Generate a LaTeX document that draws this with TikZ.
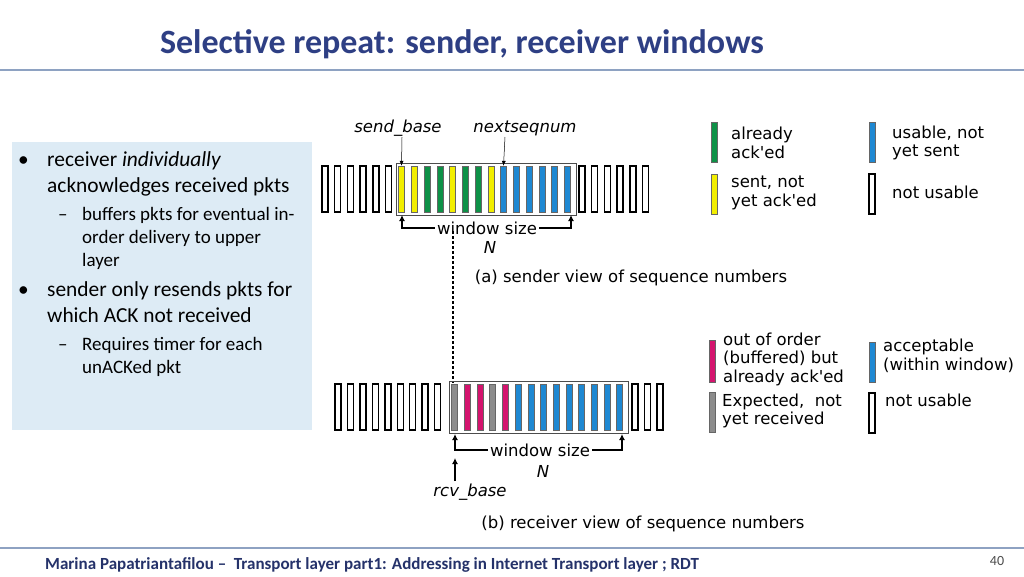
\documentclass[tikz,border=0pt]{standalone}
\usepackage{fontspec}
\setmainfont{Carlito}
\newfontfamily\figfont{DejaVu Sans}
\usetikzlibrary{positioning,arrows.meta}

\definecolor{titleblue}{HTML}{2E3F84}
\definecolor{rulegray}{HTML}{8EA2C2}
\definecolor{panelblue}{HTML}{DDEBF5}
\definecolor{ackgreen}{HTML}{0E9147}
\definecolor{sentyellow}{HTML}{F2EE00}
\definecolor{okblue}{HTML}{1E88D2}
\definecolor{bufmag}{HTML}{D4146E}
\definecolor{expgray}{HTML}{8C8C8C}

% row of sequence number slots: x0, y, pitch, name, list of styles
\newcommand{\DrawSlots}[5]{
    \foreach \s [count=\i] in {#5} {
        \node[\s] (#4\i) at ({#1+(\i-1)*#3}, #2) {};
    }
}

\begin{document}
\begin{tikzpicture}[x=1pt, y=-1pt,
  slot/.style={rectangle, inner sep=0pt, minimum width=6pt, minimum height=46pt},
  nu/.style={slot, draw=black, line width=1.4pt, fill=white},
  G/.style={slot, draw=black!60, line width=0.3pt, fill=ackgreen},
  Y/.style={slot, draw=black!60, line width=0.3pt, fill=sentyellow},
  B/.style={slot, draw=black!60, line width=0.3pt, fill=okblue},
  M/.style={slot, draw=black!60, line width=0.3pt, fill=bufmag},
  E/.style={slot, draw=black!60, line width=0.3pt, fill=expgray},
  fig/.style={font=\figfont\fontsize{16.5}{18.5}\selectfont, inner sep=0pt},
  figit/.style={fig, font=\figfont\itshape\fontsize{16.5}{18.5}\selectfont},
  legend/.style={fig, align=left, anchor=west},
  bullet/.style={anchor=base west, inner sep=0pt, font=\fontsize{21.4}{26}\selectfont},
  sub/.style={anchor=base west, inner sep=0pt, font=\fontsize{19}{23}\selectfont},
  tip/.style={-{Latex[length=6pt,width=6pt]}, line width=1.4pt},
  thin tip/.style={-{Latex[length=5pt,width=4pt]}, line width=0.5pt}
  ]
  \useasboundingbox (0,0) rectangle (1024,576);
  \fill[white] (0,0) rectangle (1024,576);

  % title and rules
  \node[font=\bfseries\fontsize{34}{38}\selectfont, text=titleblue] (title) at (462,44) {Selective repeat: sender, receiver windows};
  \draw[rulegray, line width=1.5pt] (0,70) -- (1024,70);
  \draw[rulegray, line width=1.5pt] (0,548) -- (1024,548);
  \node[anchor=west, inner sep=0pt, font=\bfseries\fontsize{17}{19}\selectfont, text=titleblue!80!black] (footer) at (45,565)
    {Marina Papatriantafilou -- \ Transport layer part1: Addressing in Internet Transport layer ; RDT};
  \node[font=\fontsize{14}{16}\selectfont, text=black!70] (page) at (997,561) {40};

  % text panel
  \fill[panelblue] (12,142) rectangle (312,430);
  \node[bullet] (b1) at (18,166) {\textbullet};
  \node[bullet] (t1) at (47,166) {receiver \textit{individually}};
  \node[bullet] (t2) at (47,192) {acknowledges received pkts};
  \node[sub] (d1) at (58,220) {--};
  \node[sub] (t3) at (82,220) {buffers pkts for eventual in-};
  \node[sub] (t4) at (82,243) {order delivery to upper};
  \node[sub] (t5) at (82,266) {layer};
  \node[bullet] (b2) at (18,296) {\textbullet};
  \node[bullet] (t6) at (47,296) {sender only resends pkts for};
  \node[bullet] (t7) at (47,322) {which ACK not received};
  \node[sub] (d2) at (58,350) {--};
  \node[sub] (t8) at (82,350) {Requires timer for each};
  \node[sub] (t9) at (82,373) {unACKed pkt};

  % sender view
  \DrawSlots{325}{189}{12.7}{sl}{nu,nu,nu,nu,nu,nu}
  \DrawSlots{401.5}{189}{12.75}{sw}{Y,Y,G,G,Y,G,G,Y,B,B,B,B,B,B}
  \DrawSlots{582}{189}{12.7}{sr}{nu,nu,nu,nu,nu,nu}
  \draw[black!70, line width=0.6pt] (396,163) rectangle (576,215);
  \node[figit] (sbase) at (398,128) {send\_base};
  \node[figit] (nseq) at (525,128) {nextseqnum};
  \coordinate (sbtop) at (402,137);
  \coordinate (nstop) at (505,137);
  \draw[thin tip] (sbtop) -- (sw1.north);
  \draw[thin tip] (nstop) -- (sw9.north);
  \node[fig, inner xsep=2pt] (swin) at (487,228) {window size};
  \node[figit] (sN) at (490,247) {N};
  \draw[tip] (swin.west) -- (402,228) -- (402,215);
  \draw[tip] (swin.east) -- (571,228) -- (571,215);
  \node[fig] (capa) at (631,278) {(a) sender view of sequence numbers};

  % dashed link
  \coordinate (dtop) at (453,231);
  \coordinate (dbot) at (453,383);
  \draw[dash pattern=on 3pt off 2pt, line width=1.4pt] (dtop) -- (dbot);

  % receiver view
  \DrawSlots{338}{407}{12.45}{rl}{nu,nu,nu,nu,nu,nu,nu,nu,nu}
  \DrawSlots{454.5}{407}{12.7}{rw}{E,M,M,E,M,B,B,B,B,B,B,B,B,B}
  \DrawSlots{635}{407}{12.5}{rr}{nu,nu,nu}
  \draw[black!70, line width=0.6pt] (449,381) rectangle (628,433);
  \node[fig, inner xsep=2pt] (rwin) at (540,450) {window size};
  \node[figit] (rN) at (543,471) {N};
  \draw[tip] (rwin.west) -- (455,450) -- (455,434);
  \draw[tip] (rwin.east) -- (622,450) -- (622,434);
  \node[figit] (rbase) at (470,492) {rcv\_base};
  \draw[tip] (455,481) -- (455,458);
  \node[fig] (capb) at (643,524) {(b) receiver view of sequence numbers};

  % sender legend
  \node[G, minimum height=40pt] (lgG) at (714,142) {};
  \node[legend] (lgGt) at (731,143) {already\\ack'ed};
  \node[Y, minimum height=40pt] (lgY) at (714,194) {};
  \node[legend] (lgYt) at (731,193) {sent, not\\yet ack'ed};
  \node[B, minimum height=40pt] (lgB) at (872,142) {};
  \node[legend] (lgBt) at (892,143) {usable, not\\yet sent};
  \node[nu, minimum height=40pt] (lgN) at (872,194) {};
  \node[legend] (lgNt) at (892,192) {not usable};

  % receiver legend
  \node[M, minimum height=42pt] (lgM) at (712,361) {};
  \node[legend] (lgMt) at (723,359) {out of order\\(buffered) but\\already ack'ed};
  \node[E, minimum height=40pt] (lgE) at (712,412) {};
  \node[legend] (lgEt) at (722,411) {Expected,\ \ not\\yet received};
  \node[B, minimum height=40pt] (lgB2) at (872,362) {};
  \node[legend] (lgB2t) at (883,356) {acceptable\\(within window)};
  \node[nu, minimum height=40pt] (lgN2) at (872,413) {};
  \node[legend] (lgN2t) at (885,400) {not usable};
\end{tikzpicture}
\end{document}
